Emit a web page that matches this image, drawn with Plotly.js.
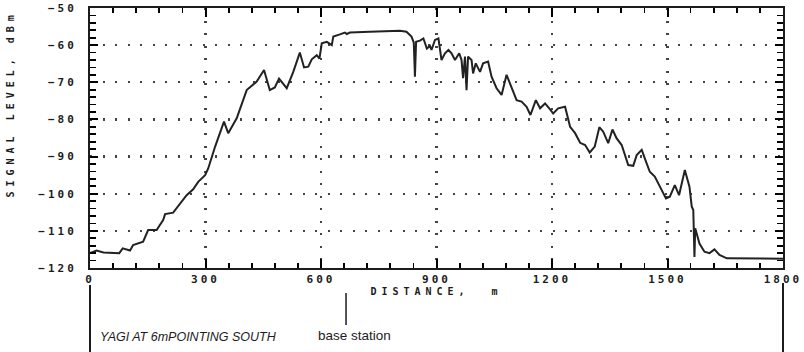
<!DOCTYPE html>
<html>
<head>
<meta charset="utf-8">
<script src="https://cdn.plot.ly/plotly-3.0.1.min.js"></script>
<style>
  html, body { margin: 0; padding: 0; background: #fff; }
  #chart { width: 804px; height: 352px; }
  .xtick text, .ytick text { letter-spacing: 3px; }
  .xtitle { letter-spacing: 5px; }
  text[data-unformatted="SIGNAL LEVEL, dBm"] { letter-spacing: 5px; }
</style>
</head>
<body>
<div id="chart"></div>
<script>
// Drive-test profile: received signal level along the route
const distance = [0,17,35,61,76,85,104,112,138,151,173,190,195,216,234,251,268,281,299,307,
  325,348,359,381,407,433,452,467,480,491,511,528,545,556,567,576,589,596,602,615,
  628,632,649,662,667,675,727,805,822,835,841,844,847,857,866,875,883,887,896,905,
  913,922,931,939,948,959,965,969,974,978,982,991,995,1002,1013,1021,1034,1043,1056,1069,
  1082,1095,1108,1121,1134,1144,1158,1169,1182,1195,1203,1216,1234,1247,1260,1273,1286,1298,1311,1323,
  1333,1346,1357,1368,1381,1398,1411,1420,1433,1441,1454,1467,1480,1496,1506,1519,1530,1545,1557,1563,
  1567,1570,1572,1583,1596,1609,1622,1635,1654,1740,1800];

const signalLevel = [-116,-115.3,-115.8,-116,-116,-114.7,-115.3,-113.8,-112.9,-109.8,-109.8,-107.1,-105.5,-105.1,-102.8,-100.4,-98.8,-96.8,-95,-93.2,
  -87.3,-80.6,-83.7,-79.7,-72.1,-69.8,-66.7,-72.1,-71.4,-69,-71.6,-67.2,-62,-66,-65.8,-63.8,-62.7,-63.6,-59.5,-59.1,
  -60,-57.7,-57.1,-56.6,-57,-56.6,-56.4,-56.1,-56.4,-57.7,-59.3,-68.5,-59.1,-58.8,-58.2,-60.9,-60.2,-61.3,-58.6,-58.2,
  -64,-62.2,-61.3,-62.2,-64,-62.2,-64,-68.9,-63.1,-72.1,-63.1,-64,-67.6,-64.9,-67.2,-64.9,-64.4,-68.5,-71.6,-73.4,
  -68,-71.2,-74.8,-75.2,-76.6,-78.8,-74.8,-77,-75.7,-77.3,-78.4,-77,-76.6,-82,-83.7,-86.3,-86.9,-88.9,-87.3,-82.1,
  -83.3,-86.4,-82.7,-85.1,-86.9,-92.3,-92.5,-89.6,-88.2,-90.5,-94.1,-95.4,-98.1,-101.3,-100.8,-97.7,-100.4,-93.6,-98.1,-103.5,
  -104.4,-117,-109.3,-113.4,-115.6,-116,-115,-116.5,-117.4,-117.4,-117.5];

const xTicks = [0, 300, 600, 900, 1200, 1500, 1800];
const yTicks = [-120, -110, -100, -90, -80, -70, -60, -50];
const baseStation = 665;
const routeNote = 'YAGI AT 6mPOINTING SOUTH';
const baseNote = 'base station';
const yTitle = 'SIGNAL LEVEL, dBm';
const xTitle = 'DISTANCE,  m';

const ink = '#1c1c1c';
const tickInk = '#000';
const gridInk = '#444';
const tickFont = { family: 'DejaVu Sans Mono', size: 11, color: ink, weight: 'bold' };
const titleFont = { family: 'DejaVu Sans Mono', size: 10, color: ink, weight: 'bold' };

const trace = {
  x: distance,
  y: signalLevel,
  type: 'scatter',
  mode: 'lines',
  line: { color: '#222', width: 2 },
  hoverinfo: 'skip'
};

const axisCommon = {
  showline: true, mirror: 'allticks', linecolor: ink, linewidth: 2,
  ticks: 'inside', tickcolor: tickInk, tickwidth: 2, tickmode: 'linear',
  showgrid: true, gridcolor: gridInk, gridwidth: 2.2, griddash: '2px,10.5px',
  zeroline: false, tickfont: tickFont, fixedrange: true
};

const layout = {
  width: 804, height: 352,
  margin: { l: 90, r: 21, t: 8, b: 84 },
  paper_bgcolor: '#fff', plot_bgcolor: '#fff',
  showlegend: false,
  xaxis: Object.assign({}, axisCommon, {
    range: [xTicks[0], xTicks[xTicks.length - 1]],
    tick0: xTicks[0], dtick: xTicks[1] - xTicks[0], ticklen: 9,
    minor: { dtick: 60, tick0: 0, ticks: 'inside', ticklen: 5, tickcolor: tickInk, tickwidth: 1.8, showgrid: false },
    title: { text: xTitle, standoff: 3, font: titleFont }
  }),
  yaxis: Object.assign({}, axisCommon, {
    range: [yTicks[0], yTicks[yTicks.length - 1]],
    tick0: yTicks[0], dtick: yTicks[1] - yTicks[0], ticklen: 8,
    minor: { dtick: 2, tick0: 0, ticks: 'inside', ticklen: 6, tickcolor: tickInk, tickwidth: 1.8, showgrid: false },
    ticklabelstandoff: 9
  }),
  shapes: [
    { type: 'line', xref: 'paper', yref: 'paper', x0: 0, x1: 0, y0: -0.065, y1: -0.33,
      line: { color: ink, width: 2 } },
    { type: 'line', xref: 'paper', yref: 'paper', x0: 1, x1: 1, y0: -0.058, y1: -0.33,
      line: { color: ink, width: 2 } },
    { type: 'line', xref: 'x', yref: 'paper', x0: baseStation, x1: baseStation, y0: -0.096, y1: -0.219,
      line: { color: ink, width: 1.5 } }
  ],
  annotations: [
    { xref: 'paper', yref: 'paper', x: -0.114, y: 1.0, xanchor: 'center', yanchor: 'top',
      text: yTitle, textangle: -90, showarrow: false, font: titleFont },
    { xref: 'paper', yref: 'paper', x: 0.011, y: -0.265, xanchor: 'left', yanchor: 'middle',
      text: '<i>' + routeNote + '</i>', showarrow: false,
      font: { family: 'Liberation Sans', size: 12.5, color: ink } },
    { xref: 'x', yref: 'paper', x: baseStation, xshift: 8, y: -0.258, xanchor: 'center', yanchor: 'middle',
      text: baseNote, showarrow: false,
      font: { family: 'Liberation Sans', size: 13.5, color: ink } }
  ]
};

const gd = document.getElementById('chart');
Plotly.newPlot(gd, [trace], layout, { staticPlot: true, displayModeBar: false }).then(function () {
  // redraw once fonts have settled so tick marks and labels are painted with final metrics
  return (document.fonts ? document.fonts.ready : Promise.resolve()).then(function () {
    return Plotly.redraw(gd);
  });
});
</script>
</body>
</html>
